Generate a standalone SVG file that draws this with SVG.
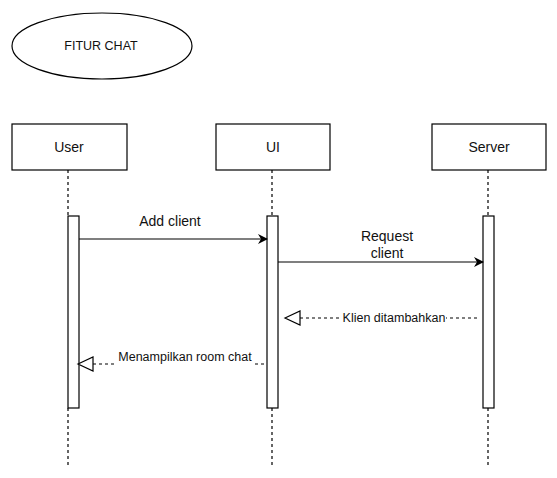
<svg xmlns="http://www.w3.org/2000/svg" width="557" height="478" viewBox="0 0 557 478">
<defs>
<marker id="solid" markerWidth="10" markerHeight="10" refX="9" refY="5" orient="auto" markerUnits="userSpaceOnUse">
<path d="M0,0 L10,5 L0,10 L3,5 Z" fill="#000"/>
</marker>
<style>
.box{fill:#fff;stroke:#000;stroke-width:1.2}
.life{stroke:#000;stroke-width:1.2;stroke-dasharray:3 3;fill:none}
.msg{stroke:#000;stroke-width:1.2;fill:none}
.ret{stroke:#000;stroke-width:1.2;stroke-dasharray:3 3;fill:none}
.open{fill:#fff;stroke:#000;stroke-width:1.2}
text{font-family:"Liberation Sans",Arial,sans-serif;fill:#111;text-anchor:middle}
.t14{font-size:14px}
.t12{font-size:12.5px}
</style>
</defs>
<rect width="557" height="478" fill="#fff"/>
<g id="title">
<ellipse cx="102" cy="46" rx="90" ry="33" class="box"/>
<text x="101" y="50" class="t12">FITUR CHAT</text>
</g>
<g id="connectors">
<line x1="68" y1="170" x2="68" y2="216" class="life"/>
<line x1="68" y1="408" x2="68" y2="466" class="life"/>
<line x1="272" y1="170" x2="272" y2="216" class="life"/>
<line x1="272" y1="408" x2="272" y2="466" class="life"/>
<line x1="488" y1="170" x2="488" y2="216" class="life"/>
<line x1="488" y1="408" x2="488" y2="466" class="life"/>
</g>
<g id="user">
<rect x="12" y="124" width="115" height="46" class="box"/>
<text x="69" y="152" class="t14">User</text>
<rect x="68" y="216" width="11" height="192" class="box"/>
</g>
<g id="ui">
<rect x="216" y="124" width="114" height="46" class="box"/>
<text x="273" y="152" class="t14">UI</text>
<rect x="267" y="216" width="11" height="192" class="box"/>
</g>
<g id="server">
<rect x="432" y="124" width="114" height="46" class="box"/>
<text x="489" y="152" class="t14">Server</text>
<rect x="483" y="216" width="11" height="192" class="box"/>
</g>
<g id="messages">
<line x1="79" y1="239" x2="267" y2="239" class="msg" marker-end="url(#solid)"/>
<text x="170" y="226" class="t14">Add client</text>
<line x1="278" y1="262" x2="483" y2="262" class="msg" marker-end="url(#solid)"/>
<text x="387" y="241" class="t14">Request</text>
<text x="387" y="258" class="t14">client</text>
<line x1="300" y1="318" x2="477" y2="318" class="ret"/>
<polygon points="285,318 300,311 300,325" class="open"/>
<rect x="342" y="310" width="104" height="16" fill="#fff"/>
<text x="394" y="322" class="t12">Klien ditambahkan</text>
<line x1="93" y1="364" x2="265" y2="364" class="ret"/>
<polygon points="78,364 93,357 93,371" class="open"/>
<rect x="116" y="349" width="138" height="18" fill="#fff"/>
<text x="185" y="361" class="t12">Menampilkan room chat</text>
</g>
</svg>
